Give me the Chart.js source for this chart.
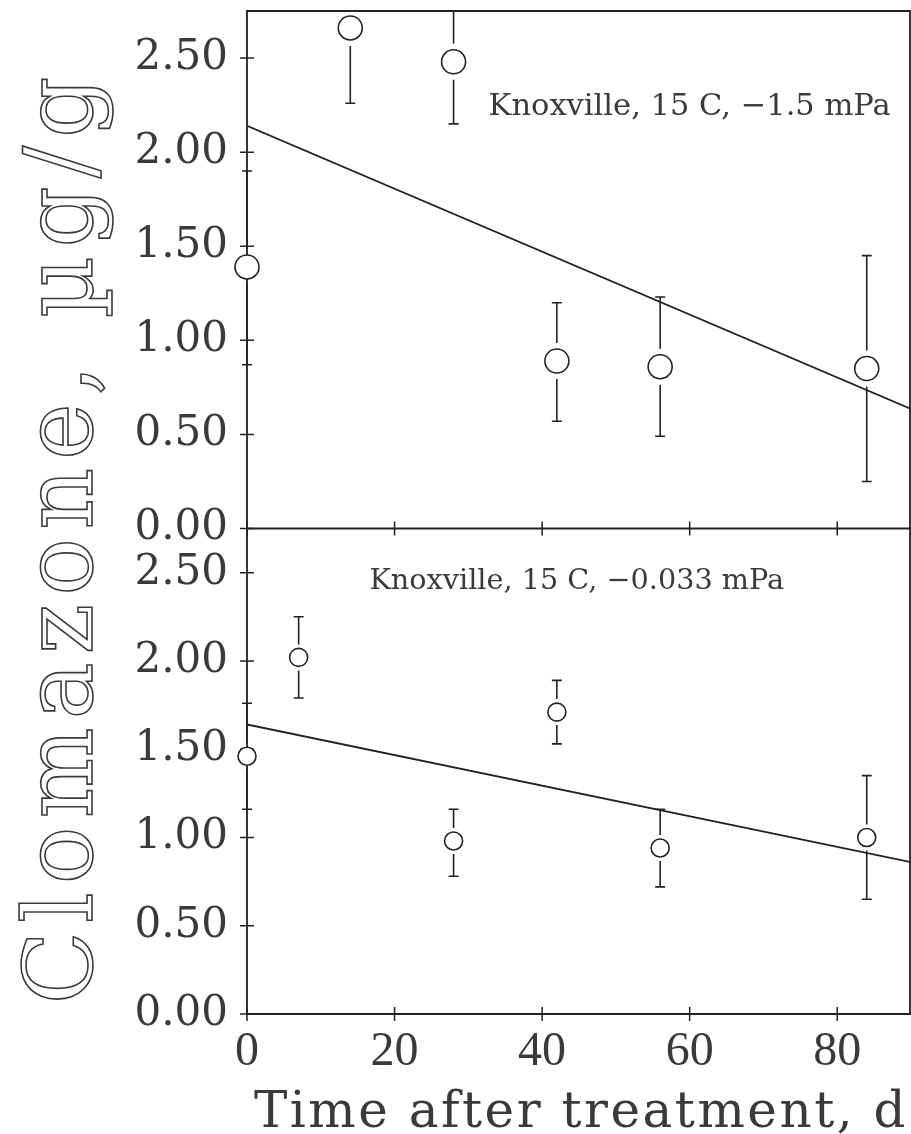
<!DOCTYPE html>
<html>
<head>
<meta charset="utf-8">
<script src="https://cdn.jsdelivr.net/npm/chart.js@4.4.1/dist/chart.umd.min.js"></script>
<style>
  html, body { margin: 0; padding: 0; background: #fff; }
  canvas { display: block; }
</style>
</head>
<body>
<canvas id="chart" width="911" height="1134"></canvas>
<script>
// ---------- data ----------
const daysDry = [0, 14, 28, 42, 56, 84];
const meanDry = [1.39, 2.66, 2.48, 0.89, 0.86, 0.85];
const lowDry  = [0.87, 2.26, 2.15, 0.57, 0.49, 0.25];
const highDry = [1.90, 3.07, 2.81, 1.20, 1.23, 1.45];

const daysWet = [0, 7, 28, 42, 56, 84];
const meanWet = [1.46, 2.02, 0.98, 1.71, 0.94, 1.00];
const lowWet  = [1.16, 1.79, 0.78, 1.53, 0.72, 0.65];
const highWet = [1.76, 2.25, 1.16, 1.89, 1.16, 1.35];

const fitDays = [0, 90];
const fitDry  = [2.14, 0.635];
const fitWet  = [1.64, 0.86];

const xTicks = [0, 20, 40, 60, 80];
const yTicks = [0, 0.5, 1.0, 1.5, 2.0, 2.5];
const yTickLabels = ['0.00', '0.50', '1.00', '1.50', '2.00', '2.50'];

const labelDry = 'Knoxville, 15 C, \u22121.5 mPa';
const labelWet = 'Knoxville, 15 C, \u22120.033 mPa';
const xTitle = 'Time after treatment, d';
const yTitle = 'Clomazone, \u00B5g/g';

// ---------- styling ----------
const ink = '#222';
const textInk = '#3a3a3a';

function toPoints(xs, ys) { return xs.map((x, i) => ({ x: x, y: ys[i] })); }

const panels = [
  { axis: 'yTop', days: daysDry, mean: meanDry, low: lowDry, high: highDry, r: 12, gap: 6 },
  { axis: 'yBot', days: daysWet, mean: meanWet, low: lowWet, high: highWet, r: 9, gap: 4 }
];

// frame + cross ticks
const framePlugin = {
  id: 'frame',
  beforeDatasetsDraw(chart) {
    const { ctx, chartArea: a, scales } = chart;
    const x = scales.x, yT = scales.yTop, yB = scales.yBot;
    ctx.save();
    ctx.strokeStyle = ink;
    ctx.lineWidth = 1.8;
    ctx.beginPath();
    ctx.rect(a.left, a.top, a.right - a.left - 1, a.bottom - a.top);
    ctx.moveTo(a.left, yT.bottom);
    ctx.lineTo(a.right, yT.bottom);
    ctx.stroke();
    ctx.lineWidth = 1.5;
    ctx.beginPath();
    [yT, yB].forEach(s => {
      yTicks.forEach(v => {
        const py = s.getPixelForValue(v);
        ctx.moveTo(a.left - 7, py);
        ctx.lineTo(a.left + 7, py);
      });
    });
    xTicks.forEach(v => {
      const px = x.getPixelForValue(v);
      [yT.bottom, yB.bottom].forEach(py => {
        ctx.moveTo(px, py - 7);
        ctx.lineTo(px, py + 7);
      });
    });
    ctx.stroke();
    ctx.restore();
  }
};

// error bars with a gap around each marker
const errorBarPlugin = {
  id: 'errorBars',
  afterDatasetsDraw(chart) {
    const { ctx, scales } = chart;
    const x = scales.x;
    ctx.save();
    ctx.strokeStyle = ink;
    ctx.lineWidth = 1.6;
    panels.forEach(p => {
      const y = scales[p.axis];
      ctx.save();
      ctx.beginPath();
      ctx.rect(0, y.top, chart.width, y.bottom - y.top);
      ctx.clip();
      ctx.beginPath();
      p.days.forEach((d, i) => {
        const px = x.getPixelForValue(d);
        const pm = y.getPixelForValue(p.mean[i]);
        const ph = y.getPixelForValue(p.high[i]);
        const pl = y.getPixelForValue(p.low[i]);
        const g = p.r + p.gap;
        if (ph < pm - g) {
          ctx.moveTo(px, pm - g); ctx.lineTo(px, ph);
          ctx.moveTo(px - 5, ph); ctx.lineTo(px + 5, ph);
        }
        if (pl > pm + g) {
          ctx.moveTo(px, pm + g); ctx.lineTo(px, pl);
          ctx.moveTo(px - 5, pl); ctx.lineTo(px + 5, pl);
        }
      });
      ctx.stroke();
      ctx.restore();
    });
    ctx.restore();
  }
};

// titles and panel labels
const textPlugin = {
  id: 'texts',
  afterDraw(chart) {
    const { ctx, scales, chartArea: a } = chart;
    const x = scales.x;
    ctx.save();
    ctx.fillStyle = textInk;
    ctx.textAlign = 'center';
    ctx.textBaseline = 'alphabetic';

    // panel labels
    ctx.font = '30.5px "DejaVu Serif"';
    ctx.fillText(labelDry, x.getPixelForValue(60.0), scales.yTop.getPixelForValue(2.20));
    ctx.font = '28.7px "DejaVu Serif"';
    ctx.fillText(labelWet, x.getPixelForValue(44.7), scales.yBot.getPixelForValue(2.41));

    // x title
    ctx.font = '50px "DejaVu Serif"';
    ctx.letterSpacing = '2.5px';
    ctx.fillText(xTitle, (a.left + a.right) / 2 + 2, a.bottom + 113);

    // y title: big outlined letters
    ctx.letterSpacing = '8px';
    ctx.font = '96px "DejaVu Serif"';
    ctx.translate(92, (scales.yTop.top + scales.yBot.bottom) / 2 + 24);
    ctx.rotate(-Math.PI / 2);
    ctx.strokeStyle = '#3a3a3a';
    ctx.lineWidth = 1.6;
    ctx.strokeText(yTitle, 0, 0);
    ctx.restore();
  }
};

function yAxis(weight, stackWeight) {
  return {
    type: 'linear',
    position: 'left',
    stack: 'panels',
    stackWeight: stackWeight,
    weight: weight,
    min: 0,
    max: 2.75,
    afterBuildTicks: s => { s.ticks = yTicks.map(v => ({ value: v })); },
    afterFit: s => { s.width = 247; s.paddingTop = 0; s.paddingBottom = 0; },
    grid: { display: false, drawTicks: false },
    border: { display: false },
    ticks: {
      padding: 19,
      color: textInk,
      font: { family: 'DejaVu Serif', size: 42 },
      callback: (v, i) => yTickLabels[i]
    }
  };
}

new Chart(document.getElementById('chart'), {
  type: 'scatter',
  data: {
    datasets: [
      {
        label: 'dry', yAxisID: 'yTop', data: toPoints(daysDry, meanDry),
        pointRadius: 12, pointHoverRadius: 12, pointStyle: 'circle',
        backgroundColor: '#fff', borderColor: ink, borderWidth: 1.6,
        showLine: false, clip: false, order: 0
      },
      {
        label: 'dry fit', yAxisID: 'yTop', data: toPoints(fitDays, fitDry),
        type: 'line', pointRadius: 0, borderColor: ink, borderWidth: 1.8,
        fill: false, order: 1
      },
      {
        label: 'wet', yAxisID: 'yBot', data: toPoints(daysWet, meanWet),
        pointRadius: 9, pointHoverRadius: 9, pointStyle: 'circle',
        backgroundColor: '#fff', borderColor: ink, borderWidth: 1.6,
        showLine: false, clip: false, order: 0
      },
      {
        label: 'wet fit', yAxisID: 'yBot', data: toPoints(fitDays, fitWet),
        type: 'line', pointRadius: 0, borderColor: ink, borderWidth: 1.8,
        fill: false, order: 1
      }
    ]
  },
  options: {
    responsive: false,
    animation: false,
    events: [],
    layout: { autoPadding: false, padding: { top: 11, left: 0, right: 0, bottom: 0 } },
    plugins: { legend: { display: false }, tooltip: { enabled: false } },
    scales: {
      x: {
        type: 'linear',
        min: 0,
        max: 90,
        afterBuildTicks: s => { s.ticks = xTicks.map(v => ({ value: v })); },
        afterFit: s => { s.height = 120; s.paddingLeft = 0; s.paddingRight = 0; },
        grid: { display: false, drawTicks: false },
        border: { display: false },
        ticks: {
          padding: 10,
          color: textInk,
          maxRotation: 0,
          font: { family: 'Liberation Serif', size: 48 }
        }
      },
      yTop: yAxis(2, 1.066),
      yBot: yAxis(1, 1)
    }
  },
  plugins: [framePlugin, errorBarPlugin, textPlugin]
});
</script>
</body>
</html>
